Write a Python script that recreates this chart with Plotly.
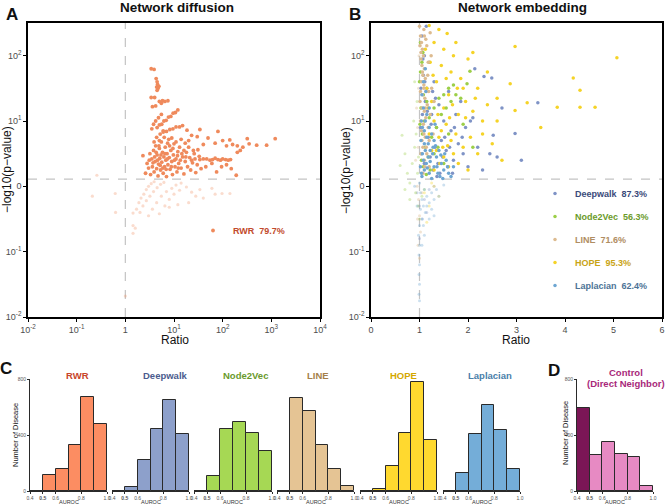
import plotly.graph_objects as go

# ---------------- Panel A: network diffusion (RWR) ----------------
# (Ratio, signed log10 of -log10(p-value) as drawn on the pseudo-log axis)
rwr_significant = [
    (3.4, 1.80), (3.9, 1.79), (4.3, 1.65), (4.5, 1.60), (4.6, 1.56), (4.4, 1.52), (4.7, 1.50),
    (4.9, 1.53), (4.5, 1.47), (3.4, 1.36), (4.0, 1.36), (5.0, 1.30), (5.8, 1.31), (6.5, 1.30),
    (7.5, 1.31), (5.5, 1.27), (3.6, 1.22), (4.2, 1.23),
    (4.5, 0.90), (5.0, 0.94), (5.6, 0.95), (6.2, 1.00), (6.9, 1.01), (7.7, 1.06), (8.6, 1.07),
    (9.6, 1.12), (10.7, 1.13), (12.0, 1.17), (3.8, 0.95), (4.8, 1.05), (5.5, 1.10), (4.2, 1.00),
    (3.5, 0.88), (6.0, 0.85), (5.2, 0.80), (6.0, 0.83), (7.0, 0.84), (8.2, 0.87), (9.5, 0.88),
    (11.0, 0.91), (13.0, 0.91), (15.0, 0.93), (18.5, 0.86), (23, 0.78), (20, 0.70), (34, 0.87),
    (30, 0.76), (80, 0.84), (50, 0.74), (100, 0.70), (140, 0.71), (160, 0.64), (200, 0.62),
    (320, 0.73), (350, 0.65), (500, 0.63), (800, 0.63), (1200, 0.73), (260, 0.60), (120, 0.62),
    (70, 0.66), (40, 0.64),
    (34, 0.41), (40, 0.42), (47, 0.42), (55, 0.40), (62, 0.41), (70, 0.43), (80, 0.41),
    (90, 0.40), (100, 0.42), (115, 0.41), (130, 0.40), (145, 0.41),
    (2.3, 0.47), (2.6, 0.20), (2.8, 0.35), (3.0, 0.28), (3.2, 0.50), (3.3, 0.18), (3.5, 0.42),
    (3.6, 0.30), (3.8, 0.55), (3.9, 0.22), (4.1, 0.38), (4.2, 0.62), (4.4, 0.27), (4.5, 0.48),
    (4.7, 0.16), (4.8, 0.34), (5.0, 0.58), (5.1, 0.43), (5.3, 0.25), (5.5, 0.68), (5.6, 0.37),
    (5.8, 0.52), (6.0, 0.20), (6.2, 0.45), (6.4, 0.30), (6.6, 0.60), (6.8, 0.40), (7.0, 0.15),
    (7.2, 0.50), (7.5, 0.33), (7.8, 0.72), (8.0, 0.44), (8.3, 0.26), (8.6, 0.55), (9.0, 0.38),
    (9.3, 0.18), (9.7, 0.48), (10, 0.65), (10.5, 0.30), (11, 0.42), (11.5, 0.22), (12, 0.53),
    (12.5, 0.35), (13, 0.60), (14, 0.28), (15, 0.45), (16, 0.19), (17, 0.38), (18, 0.52),
    (19, 0.30), (21, 0.44), (22, 0.25), (24, 0.36), (26, 0.50), (28, 0.21), (30, 0.33),
    (33, 0.46), (36, 0.27), (45, 0.30), (60, 0.35), (75, 0.22), (95, 0.30), (120, 0.33),
    (150, 0.27), (200, 0.52), (230, 0.55), (190, 0.17), (4.0, 0.45), (4.6, 0.40), (5.2, 0.32),
    (5.9, 0.28), (6.5, 0.50), (7.3, 0.42), (8.8, 0.30), (9.5, 0.58), (10.2, 0.40), (11.8, 0.47),
    (13.5, 0.40), (16, 0.55), (20, 0.60), (25, 0.55), (3.1, 0.40), (3.7, 0.36), (4.3, 0.52),
    (5.4, 0.48), (6.9, 0.26), (8.1, 0.62), (12.2, 0.28), (14.5, 0.50), (17.5, 0.45), (23, 0.40),
    (27, 0.42), (31, 0.56), (5.0, 0.70), (6.3, 0.75), (7.4, 0.66), (9.0, 0.74), (11, 0.68),
    (14, 0.72), (17, 0.66), (4.4, 0.75), (3.9, 0.68), (4.9, 0.62),
]
rwr_not_significant = [
    (0.26, 0.17), (0.21, -0.15), (0.62, -0.11), (0.63, -0.40), (1.44, -0.41), (1.44, -0.60),
    (1.44, -0.72), (1.6, -0.64), (1.7, -0.35), (1.9, -0.25), (2.1, -0.18), (2.4, -0.12),
    (2.7, -0.05), (3.0, 0.00), (3.4, 0.04), (3.9, 0.07), (2.0, -0.40), (2.3, -0.30),
    (2.7, -0.22), (3.2, -0.15), (3.8, -0.08), (4.5, -0.02), (5.3, 0.03), (6.2, 0.06),
    (3.0, -0.45), (3.6, -0.35), (4.4, -0.25), (5.5, -0.15), (7.0, -0.08), (9.0, -0.03),
    (11, 0.02), (14, 0.05), (6.5, -0.30), (8.0, -0.20), (10, -0.12), (13, -0.06), (18, -0.01),
    (23, -0.09), (28, -0.15), (34, -0.05), (40, -0.18), (60, -0.03), (70, -0.12), (97, -0.11),
    (141, -0.11), (5.0, -0.42), (8.0, -0.32), (12, -0.28), (20, -0.25), (1.0, -1.68),
]

# ---------------- Panel B: network embedding ----------------
deepwalk_significant = [
    (1.05, 2.3), (1.1, 2.0), (1.08, 1.7), (1.15, 1.5), (1.2, 1.9), (1.12, 1.3), (1.25, 1.1),
    (1.3, 1.6), (1.35, 0.9), (1.4, 1.25), (1.45, 0.7), (1.5, 1.0), (1.55, 0.55), (1.6, 1.45),
    (1.65, 0.85), (1.7, 0.4), (1.75, 1.1), (1.8, 0.65), (1.85, 1.3), (1.9, 0.5), (1.95, 0.9),
    (2.0, 0.3), (2.05, 1.0), (2.10, 1.05), (2.14, 1.80), (2.2, 0.6), (2.33, 1.68), (2.49, 1.66),
    (2.52, 0.78), (2.6, 0.45), (2.7, 1.2), (2.97, 0.81), (3.1, 0.4), (3.44, 1.28), (1.02, 0.9),
    (1.04, 0.5), (1.06, 1.1), (1.1, 0.35), (1.18, 0.75), (1.22, 0.45), (1.28, 0.25), (1.32, 0.6),
    (1.38, 0.35), (1.42, 0.2), (1.48, 0.45), (1.58, 0.3), (1.68, 0.2), (2.3, 0.25), (2.45, 0.5),
    (1.14, 2.45), (1.03, 1.5), (1.07, 1.95), (1.11, 1.6), (1.16, 1.15), (1.24, 0.95),
    (1.27, 1.45), (1.33, 1.35), (1.36, 0.15), (1.52, 0.75), (1.62, 0.6), (1.72, 0.9),
    (1.88, 0.75),
]
deepwalk_not_significant = [
    (0.95, -0.1), (1.0, -0.3), (1.05, -0.5), (1.1, -0.2), (1.2, -0.05), (1.15, -0.4), (1.3, 0.0),
    (1.0, -0.8),
]
node2vec_significant = [
    (1.02, 2.2), (1.05, 1.9), (1.0, 1.6), (1.08, 1.4), (1.03, 1.2), (1.1, 1.0), (1.06, 0.8),
    (1.12, 0.6), (1.15, 1.3), (1.2, 1.05), (1.25, 0.75), (1.18, 0.45), (1.3, 1.2), (1.35, 0.9),
    (1.4, 1.35), (1.45, 1.1), (1.5, 1.4), (1.55, 1.2), (1.6, 1.5), (1.65, 1.3), (1.7, 1.55),
    (1.75, 1.4), (1.85, 1.35), (1.98, 1.57), (2.04, 1.76), (1.08, 0.3), (1.22, 0.25), (1.3, 0.5),
    (1.14, 0.18), (1.04, 0.4), (1.01, 0.95), (1.02, 1.75), (1.07, 2.05), (1.5, 0.35), (1.38, 0.6),
    (1.6, 0.8), (1.9, 0.95), (2.1, 0.6),
]
node2vec_not_significant = [
    (0.6, 0.32), (0.64, 0.78), (0.7, 0.5), (0.75, 0.2), (0.8, 0.05), (0.85, 0.35), (0.9, 0.6),
    (0.92, -0.1), (0.88, 1.0), (0.95, 1.3), (0.97, -0.3), (1.0, -0.5), (0.8, -0.2), (1.05, -0.15),
    (1.1, -0.05), (0.7, -0.05), (0.93, 0.8), (0.96, 0.2), (0.9, 1.6), (0.98, 0.45),
]
line_significant = [
    (1.0, 2.45), (1.02, 2.3), (1.04, 2.2), (1.06, 2.1), (1.08, 2.0), (1.03, 1.95), (1.05, 1.85),
    (1.1, 1.8), (1.07, 1.7), (1.12, 1.65), (1.04, 1.6), (1.09, 1.5), (1.14, 1.45), (1.06, 1.4),
    (1.11, 1.35), (1.16, 1.25), (1.05, 1.2), (1.1, 1.15), (1.13, 1.05), (1.08, 0.95), (1.18, 0.9),
    (1.04, 0.85), (1.12, 0.75), (1.2, 0.7), (1.07, 0.6), (1.15, 0.5), (1.1, 0.4), (1.22, 1.1),
    (1.25, 1.5), (1.18, 1.9), (1.15, 2.15), (1.22, 2.35), (1.02, 1.0), (1.2, 0.3), (1.28, 0.8),
    (1.3, 1.3), (1.09, 2.4), (1.13, 2.25), (1.01, 1.3), (1.17, 1.7), (1.03, 2.05), (1.06, 1.75),
    (1.09, 1.55), (1.02, 1.45), (1.12, 1.2), (1.05, 0.7), (1.09, 0.8), (1.14, 0.6), (1.03, 0.5),
    (1.11, 0.3), (1.07, 0.2), (1.19, 1.45), (1.24, 2.0), (1.01, 2.15), (1.1, 2.3),
]
line_not_significant = [
    (0.95, 0.0), (0.98, -0.2), (1.0, -0.45), (1.02, -0.7), (0.97, -0.9), (1.0, -1.1),
    (1.05, -0.1), (0.92, 0.4), (0.96, 0.9), (0.98, 1.5), (0.94, 1.2), (0.97, 0.6), (0.99, 2.0),
    (0.96, -0.5),
]
hope_significant = [
    (1.2, 2.46), (1.4, 2.40), (1.57, 2.34), (1.3, 2.2), (1.5, 2.1), (1.7, 2.0), (2.0, 1.95),
    (1.45, 1.85), (1.65, 1.75), (1.85, 1.65), (2.2, 1.5), (2.97, 2.14), (5.07, 1.97), (4.17, 1.66),
    (4.31, 1.47), (3.84, 1.21), (4.31, 1.21), (4.62, 1.21), (3.22, 1.28), (2.97, 1.16), (2.87, 1.57),
    (2.6, 1.35), (2.4, 1.25), (2.3, 1.0), (2.1, 1.15), (1.95, 1.3), (1.8, 1.1), (1.6, 1.4),
    (1.5, 1.2), (1.35, 1.6), (1.25, 1.3), (1.3, 1.0), (1.45, 0.85), (1.55, 0.95), (1.65, 0.7),
    (1.75, 0.8), (1.9, 0.6), (2.05, 0.75), (2.2, 0.5), (2.5, 0.65), (2.7, 0.4), (1.35, 0.55),
    (1.42, 0.35), (1.5, 0.45), (1.6, 0.3), (1.7, 0.5), (1.8, 0.35), (1.2, 0.8), (1.15, 1.5),
    (1.22, 1.9), (1.9, 1.5), (2.4, 1.75), (2.1, 2.05), (1.75, 2.2), (1.3, 0.25), (2.0, 0.25),
    (1.48, 0.6), (1.58, 0.62), (1.12, 2.1), (1.18, 1.2), (1.25, 0.55), (1.28, 1.7), (1.38, 1.1),
    (1.4, 0.75), (1.55, 1.65), (1.62, 1.05), (1.68, 1.25), (1.78, 1.5), (1.95, 1.05),
    (2.15, 1.35), (2.3, 0.8), (2.6, 1.0), (3.5, 0.9),
]
hope_not_significant = [
    (1.1, -0.1), (1.2, -0.3), (1.3, 0.0), (1.4, -0.15), (1.15, -0.55), (1.25, 0.05),
]
laplacian_significant = [
    (1.05, 1.4), (1.08, 1.2), (1.12, 1.0), (1.1, 0.85), (1.15, 0.75), (1.2, 0.9), (1.25, 0.8),
    (1.3, 0.7), (1.28, 0.6), (1.22, 0.55), (1.18, 0.45), (1.14, 0.35), (1.1, 0.25), (1.06, 0.5),
    (1.03, 0.7), (1.05, 0.15), (1.2, 0.2), (1.3, 0.3), (1.35, 0.45), (1.4, 0.55), (1.45, 0.35),
    (1.5, 0.25), (1.55, 0.4), (1.6, 0.2), (1.38, 0.2), (1.25, 0.12), (1.15, 1.1), (1.08, 1.6),
    (1.12, 1.8), (1.04, 1.0), (1.18, 0.65), (1.32, 0.95), (1.42, 0.15), (1.7, 0.3), (1.02, 0.3),
    (1.04, 0.2), (1.08, 0.4), (1.12, 0.55), (1.16, 0.28), (1.22, 0.38), (1.27, 0.5), (1.33, 0.62),
    (1.36, 0.3), (1.44, 0.48), (1.48, 0.12), (1.52, 0.5), (1.58, 0.3), (1.65, 0.15), (1.1, 0.65),
    (1.06, 0.9), (1.2, 1.2), (1.13, 1.45),
]
laplacian_not_significant = [
    (1.0, 0.05), (1.02, -0.1), (1.05, -0.2), (1.08, -0.3), (1.1, -0.05), (1.15, -0.15),
    (1.2, -0.25), (1.25, -0.1), (1.3, -0.2), (1.35, -0.05), (1.12, -0.4), (1.06, -0.5),
    (1.0, -0.6), (0.98, -0.75), (1.0, -0.9), (0.99, -1.05), (1.0, -1.2), (0.99, -1.35),
    (1.0, -1.5), (0.99, -1.65), (1.0, -1.75), (1.2, -0.5), (1.4, -0.15), (1.5, 0.02),
    (0.95, -0.3), (0.9, 0.0), (1.02, -0.35), (1.08, -0.6), (1.15, -0.3), (1.25, -0.35),
    (1.3, -0.45), (1.1, -0.75), (1.05, -0.9),
]

# significance threshold (position on the pseudo-log axis) and ratio = 1 line
threshold_y = 0.11
ratio_one = 1

y_tickvals = [-2, -1, 0, 1, 2]
y_ticktext = ["10<sup>-2</sup>", "10<sup>-1</sup>", "0", "10<sup>1</sup>", "10<sup>2</sup>"]
xA_tickvals = [0.01, 0.1, 1, 10, 100, 1000, 10000]
xA_ticktext = ["10<sup>-2</sup>", "10<sup>-1</sup>", "1", "10<sup>1</sup>",
               "10<sup>2</sup>", "10<sup>3</sup>", "10<sup>4</sup>"]

# ---------------- Panels C / D: AUROC histograms ----------------
bin_centers = [0.45, 0.55, 0.65, 0.75, 0.85, 0.95]
hist_methods = ["RWR", "Deepwalk", "Node2Vec", "LINE", "HOPE", "Laplacian"]
rwr_counts = [0, 114, 155, 326, 669, 481]
deepwalk_counts = [0, 26, 224, 445, 648, 409]
node2vec_counts = [0, 107, 445, 490, 416, 288]
line_counts = [0, 662, 569, 326, 155, 33]
hope_counts = [0, 17, 179, 414, 776, 362]
laplacian_counts = [0, 126, 409, 616, 436, 157]
control_counts = [595, 255, 348, 262, 245, 36]
hist_xticks = [0.4, 0.5, 0.6, 0.8, 1.0]
hist_xticktext = ["0.4", "<b>0.5</b>", "0.6", "0.8", "1.0"]
hist_yticks = [0, 400, 800]

# ---------------- figure ----------------
W, H = 666, 504
FONT = "Liberation Sans, Arial, Helvetica, sans-serif"


def xs(pts):
    return [p[0] for p in pts]


def ys(pts):
    return [p[1] for p in pts]


def dom_x(a, b):
    return [a / W, b / W]


def dom_y(top, bottom):
    return [1 - bottom / H, 1 - top / H]


fig = go.Figure()

# Panel A
fig.add_trace(go.Scatter(x=xs(rwr_not_significant), y=ys(rwr_not_significant), mode="markers",
                         xaxis="x", yaxis="y", showlegend=False, hoverinfo="skip",
                         marker=dict(size=3.2, color="rgba(239,138,92,0.3)")))
fig.add_trace(go.Scatter(x=xs(rwr_significant), y=ys(rwr_significant), mode="markers",
                         xaxis="x", yaxis="y", name="<b>RWR\u00a0\u00a079.7%</b>",
                         legend="legend",
                         marker=dict(size=3.8, color="#EF8A5C")))

# Panel B
b_methods = [
    ("Deepwalk", "87.3%", deepwalk_significant, deepwalk_not_significant,
     "#7F93C6", "rgba(127,147,198,0.35)", "#3B4A7A"),
    ("Node2Vec", "56.3%", node2vec_significant, node2vec_not_significant,
     "#9CCF48", "rgba(156,207,72,0.35)", "#6B9B2B"),
    ("LINE", "71.6%", line_significant, line_not_significant,
     "#DDBB90", "rgba(221,187,144,0.4)", "#B08D62"),
    ("HOPE", "95.3%", hope_significant, hope_not_significant,
     "#F5D327", "rgba(245,211,39,0.35)", "#C9A417"),
    ("Laplacian", "62.4%", laplacian_significant, laplacian_not_significant,
     "#6EA6D2", "rgba(110,166,210,0.35)", "#4D7396"),
]
for name, pct, sig, nsig, col, light, tcol in b_methods:
    fig.add_trace(go.Scatter(x=xs(nsig), y=ys(nsig), mode="markers", xaxis="x2", yaxis="y2",
                             showlegend=False, hoverinfo="skip",
                             marker=dict(size=3, color=light)))
draw_order = [0, 3, 1, 2, 4]
for i in draw_order:
    name, pct, sig, nsig, col, light, tcol = b_methods[i]
    fig.add_trace(go.Scatter(
        x=xs(sig), y=ys(sig), mode="markers", xaxis="x2", yaxis="y2",
        name=f"<span style='color:{tcol}'><b>{name}\u00a0\u00a0{pct}</b></span>",
        legend="legend2", legendgroup=name, legendrank=i + 1,
        marker=dict(size=3.5, color=col)))

# Histograms
hist_counts = [rwr_counts, deepwalk_counts, node2vec_counts, line_counts, hope_counts,
               laplacian_counts, control_counts]
hist_colors = ["#FC8D62", "#8DA0CB", "#A6D854", "#E5C494", "#FFD92F", "#74ADD8", "#E78AC3"]
low_colors = ["#B5502E", "#55628F", "#6E9A2E", "#A48555", "#A8A03A", "#3F6E96", "#7B1656"]
title_colors = ["#C8452A", "#4B5C8E", "#6A9A2C", "#A57F4A", "#D4A800", "#4A80AA", "#A8287A"]
hist_dom = [(30, 107), (112, 189), (194, 272), (277, 354), (360, 437), (443, 520), (577, 653)]
title_x = [77, 165, 245, 318, 403, 490, 626]

for k, counts in enumerate(hist_counts):
    ax = k + 3
    cols = [low_colors[k] if c < 0.5 else hist_colors[k] for c in bin_centers]
    fig.add_trace(go.Bar(x=bin_centers, y=counts, width=0.1, xaxis=f"x{ax}", yaxis=f"y{ax}",
                         showlegend=False, hoverinfo="skip",
                         marker=dict(color=cols, line=dict(color="#2A2A2A", width=1))))

layout = dict(
    width=W, height=H, margin=dict(l=0, r=0, t=0, b=0, autoexpand=False),
    paper_bgcolor="white", plot_bgcolor="white",
    font=dict(family=FONT, color="#222"),
    showlegend=True, bargap=0,
)

frame = dict(showline=True, mirror=True, linecolor="black", linewidth=1.5, ticks="outside",
             ticklen=3, tickcolor="black", showgrid=False, zeroline=False, automargin=False,
             tickfont=dict(size=9, color="#4D4D4D"))

layout["xaxis"] = dict(frame, type="log", range=[-2, 4], domain=dom_x(28, 320), anchor="y",
                       tickvals=xA_tickvals, ticktext=xA_ticktext)
layout["yaxis"] = dict(frame, range=[-2, 2.5], domain=dom_y(23, 317), anchor="x",
                       tickvals=y_tickvals, ticktext=y_ticktext)
layout["xaxis2"] = dict(frame, range=[0, 6], domain=dom_x(371, 662), anchor="y2",
                        tickvals=[0, 1, 2, 3, 4, 5, 6])
layout["yaxis2"] = dict(frame, range=[-2, 2.5], domain=dom_y(23, 317), anchor="x2",
                        tickvals=y_tickvals, ticktext=y_ticktext)

for k in range(7):
    ax = k + 3
    a, b = hist_dom[k]
    layout[f"xaxis{ax}"] = dict(range=[0.4, 1.0], domain=dom_x(a, b), anchor=f"y{ax}",
                                showline=True, linecolor="#2A2A2A", linewidth=1,
                                ticks="outside", ticklen=2, tickcolor="#2A2A2A",
                                tickvals=hist_xticks, ticktext=hist_xticktext,
                                tickfont=dict(size=5, color="#555"), showgrid=False,
                                zeroline=False, automargin=False)
    show_y = k in (0, 6)
    layout[f"yaxis{ax}"] = dict(range=[0, 800], domain=dom_y(379, 491), anchor=f"x{ax}",
                                visible=show_y, showline=True, linecolor="#2A2A2A",
                                linewidth=1, ticks="outside", ticklen=2, tickcolor="#2A2A2A",
                                tickvals=hist_yticks, tickfont=dict(size=5, color="#555"),
                                showgrid=False, zeroline=False, automargin=False)

layout["legend"] = dict(x=193 / W, y=1 - 216 / H, xanchor="left", yanchor="top",
                        bgcolor="rgba(0,0,0,0)", font=dict(size=9, color="#C24A2C", family=FONT),
                        itemsizing="trace")
layout["legend2"] = dict(x=535 / W, y=1 - 179 / H, xanchor="left", yanchor="top",
                         bgcolor="rgba(0,0,0,0)", font=dict(size=9, family=FONT),
                         itemsizing="trace", tracegroupgap=4, traceorder="grouped")

shapes = []
for xa, ya in (("x", "y"), ("x2", "y2")):
    shapes.append(dict(type="line", xref=xa, yref=f"{ya} domain", x0=ratio_one, x1=ratio_one,
                       y0=0, y1=1, line=dict(color="#C4C4C4", width=1.2, dash="dash"),
                       layer="below"))
    shapes.append(dict(type="line", xref=f"{xa} domain", yref=ya, x0=0, x1=1,
                       y0=threshold_y, y1=threshold_y,
                       line=dict(color="#C4C4C4", width=1.2, dash="dash"), layer="below"))
layout["shapes"] = shapes


def ann(text, x, y, size, color="#111", bold=False, angle=0, xanchor="center"):
    t = f"<b>{text}</b>" if bold else text
    return dict(text=t, x=x / W, y=1 - y / H, xref="paper", yref="paper", showarrow=False,
                font=dict(size=size, color=color, family=FONT), xanchor=xanchor,
                yanchor="middle", textangle=angle)


annotations = [
    ann("A", 12, 14, 17, bold=True),
    ann("B", 355, 14, 17, bold=True),
    ann("C", 6, 368, 17, bold=True),
    ann("D", 554, 370, 17, bold=True),
    ann("Network diffusion", 177, 8, 13.5, bold=True),
    ann("Network embedding", 522, 8, 13.5, bold=True),
    ann("Ratio", 175, 340, 12),
    ann("Ratio", 516, 340, 12),
    ann("\u2212log10(p\u2212value)", 7, 170, 12, angle=-90),
    ann("\u2212log10(p\u2212value)", 346, 170, 12, angle=-90),
    ann("Number of Disease", 15, 435, 7.5, angle=-90),
    ann("Number of Disease", 565, 433, 7.5, angle=-90),
]
for k in range(7):
    a, b = hist_dom[k]
    annotations.append(ann("AUROC", (a + b) / 2, 501.5, 5.5, color="#333"))
    if k < 6:
        annotations.append(ann(hist_methods[k], title_x[k], 375, 9.5, color=title_colors[k],
                               bold=True))
annotations.append(ann("Control", title_x[6], 372, 9.5, color=title_colors[6], bold=True))
annotations.append(ann("(Direct Neighbor)", title_x[6], 383, 9.5, color=title_colors[6],
                       bold=True))
layout["annotations"] = annotations

fig.update_layout(**layout)
fig.write_html(
    "out.html",
    config={"displayModeBar": False},
    post_script="document.body.style.margin='0px';document.body.style.overflow='hidden';",
)
